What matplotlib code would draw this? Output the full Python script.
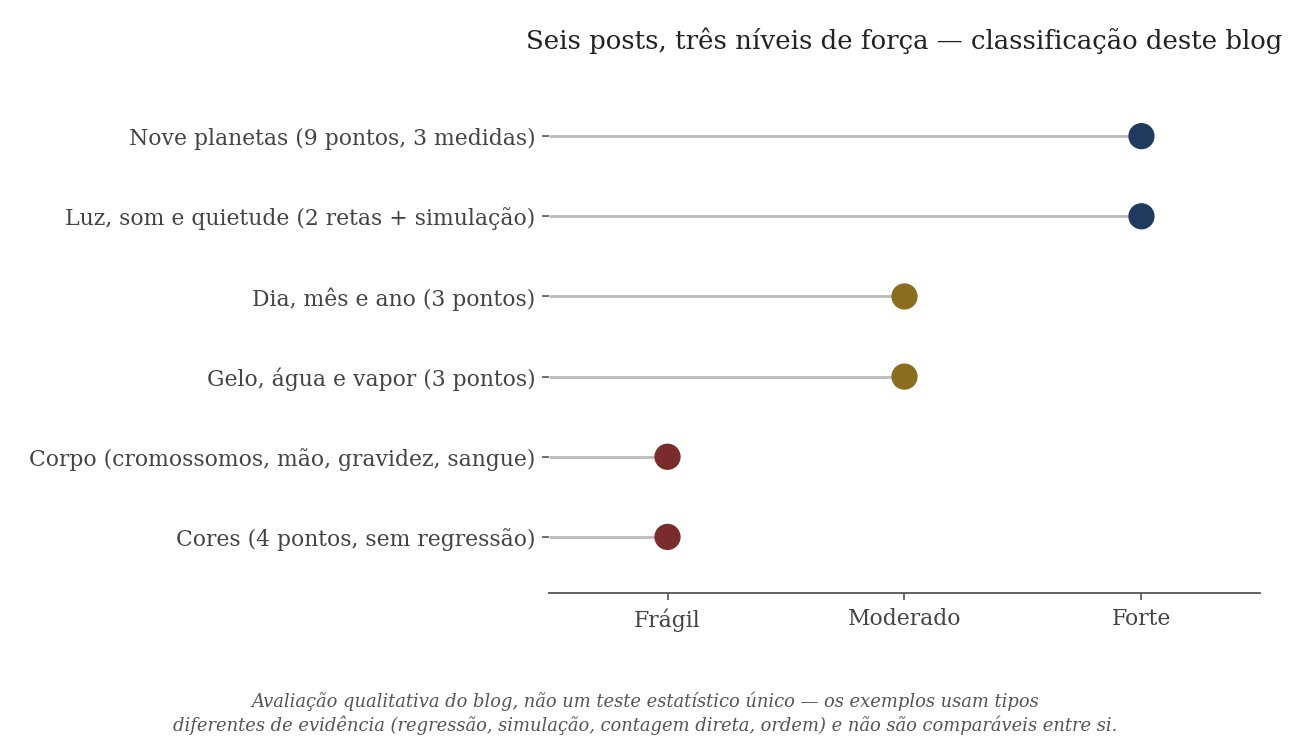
import matplotlib.pyplot as plt

posts = ['Nove planetas (9 pontos, 3 medidas)',
         'Luz, som e quietude (2 retas + simulação)',
         'Dia, mês e ano (3 pontos)',
         'Gelo, água e vapor (3 pontos)',
         'Corpo (cromossomos, mão, gravidez, sangue)',
         'Cores (4 pontos, sem regressão)']
nivel = [3, 3, 2, 2, 1, 1]
niveis = ['Frágil', 'Moderado', 'Forte']
cores = {1: '#7a2b2b', 2: '#8b6d1f', 3: '#1f3a5f'}

plt.rcParams['font.family'] = ['DejaVu Serif']

fig = plt.figure(figsize=(12.9, 7.5), dpi=100)
ax = fig.add_axes([0.4256, 0.2093, 0.5511, 0.684])

ypos = list(range(len(posts)))[::-1]
ax.hlines(ypos, 0.5, nivel, color='#bbbbbb', lw=2, zorder=1)
ax.scatter(nivel, ypos, s=320, c=[cores[n] for n in nivel], zorder=2)

ax.set_xlim(0.5, 3.5)
ax.set_ylim(-0.7, 5.7)
ax.set_yticks(ypos)
ax.set_yticklabels(posts, fontsize=15.75, color='#444444')
ax.set_xticks([1, 2, 3])
ax.set_xticklabels(niveis, fontsize=15.75, color='#444444')
ax.tick_params(axis='both', colors='#555555', length=5, width=1.2, labelcolor='#444444')
ax.tick_params(axis='x', pad=6)
ax.tick_params(axis='y', pad=5)

for s in ['top', 'right', 'left']:
    ax.spines[s].set_visible(False)
ax.spines['bottom'].set_color('#555555')
ax.spines['bottom'].set_linewidth(1.3)

ax.set_title('Seis posts, três níveis de força — classificação deste blog',
             fontsize=18.7, color='#222222', pad=22)

fig.text(0.5, 0.049,
         'Avaliação qualitativa do blog, não um teste estatístico único — os exemplos usam tipos\n'
         'diferentes de evidência (regressão, simulação, contagem direta, ordem) e não são comparáveis entre si.',
         ha='center', va='center', fontsize=12.85, style='italic', color='#555555', linespacing=1.25)

fig.savefig('out.png', dpi=100)
